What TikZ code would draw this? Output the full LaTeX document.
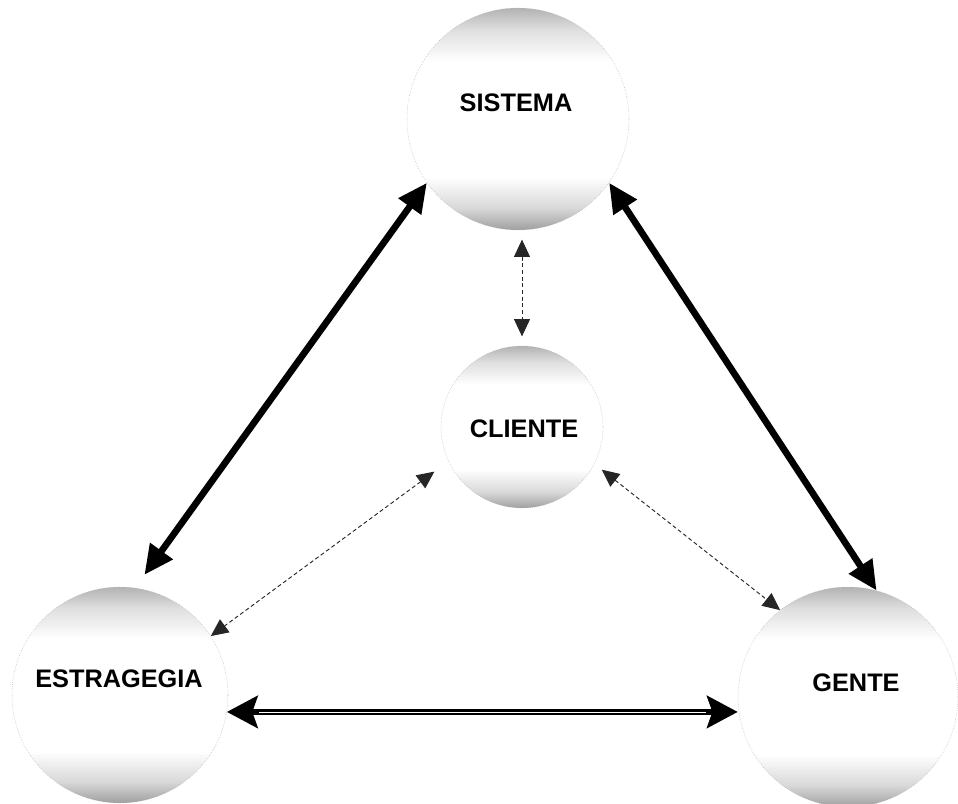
\documentclass[tikz,border=0pt]{standalone}
\usepackage{fontspec}
\setmainfont{Liberation Sans}
\usepackage{tikz}
\usetikzlibrary{arrows.meta}
\pgfdeclareverticalshading{ballshade}{100bp}{color(0bp)=(gray!75); color(25bp)=(gray!75); color(30bp)=(gray!30); color(37bp)=(white); color(63bp)=(white); color(70bp)=(gray!25); color(75bp)=(gray!60); color(100bp)=(gray!60)}

\begin{document}
\begin{tikzpicture}[x=0.75pt,y=-0.75pt,
  ball/.style={circle,draw=gray!60,densely dotted,shading=ballshade,inner sep=0pt},
  lbl/.style={font=\fontsize{19}{22}\selectfont\bfseries},
  bigarrow/.style={{Triangle[length=22pt,width=20pt]}-{Triangle[length=22pt,width=20pt]},line width=5pt},
  smallarrow/.style={{Triangle[length=13pt,width=12pt]}-{Triangle[length=13pt,width=12pt]},densely dashed,gray!30!black,line width=0.7pt},
  hzarrow/.style={{Stealth[length=23pt,width=24pt,inset=4pt]}-{Stealth[length=23pt,width=24pt,inset=4pt]},line width=5pt}]
  \useasboundingbox (0,0) rectangle (958,804);
  % the four balls
  \node[ball,minimum size=166.5pt] (sis) at (518,119) {};
  \node[ball,minimum size=121.5pt] (cli) at (522,427) {};
  \node[ball,minimum size=162pt] (est) at (120,695) {};
  \node[ball,minimum size=165pt] (gen) at (848,697) {};
  \node[lbl] (sisT) at (516,103) {SISTEMA};
  \node[lbl] (cliT) at (524,429) {CLIENTE};
  \node[lbl] (estT) at (119,679) {ESTRAGEGIA};
  \node[lbl] (genT) at (856,683) {GENTE};
  % connectors
  \draw[bigarrow,shorten >=12pt] (sis.215) -- (est.82);
  \draw[bigarrow] (sis.-35) -- (gen.75);
  \draw[smallarrow,shorten <=7pt,shorten >=7pt] (cli.north |- sis.south) -- (cli.north);
  \draw[smallarrow,shorten <=13pt] (cli.205) -- (est.33);
  \draw[smallarrow,shorten <=7pt] (cli.-27) -- (gen.128);
  \draw[hzarrow] (est.-9) -- (gen.west |- est.-9);
  \draw[white,line width=0.6pt,shorten <=24pt,shorten >=24pt] (est.-9) -- (gen.west |- est.-9);
\end{tikzpicture}
\end{document}
